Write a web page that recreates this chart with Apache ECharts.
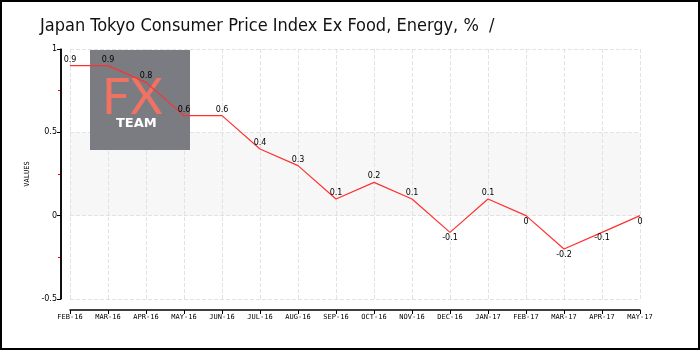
<!DOCTYPE html>
<html><head><meta charset="utf-8">
<script src="https://cdn.jsdelivr.net/npm/echarts@6/dist/echarts.min.js"></script>
<style>html,body{margin:0;padding:0;background:#fff}#c{width:700px;height:350px;box-sizing:border-box;border:2px solid #000}</style>
</head><body><div id="c"></div>
<script>
var titleText = 'Japan Tokyo Consumer Price Index Ex Food, Energy, %  /';
var categories = ['FEB-16','MAR-16','APR-16','MAY-16','JUN-16','JUL-16','AUG-16','SEP-16','OCT-16','NOV-16','DEC-16','JAN-17','FEB-17','MAR-17','APR-17','MAY-17'];
var values = [0.9,0.9,0.8,0.6,0.6,0.4,0.3,0.1,0.2,0.1,-0.1,0.1,0,-0.2,-0.1,0];
var yTicks = {min:-0.5, max:1, interval:0.5};

var chart = echarts.init(document.getElementById('c'));
var seriesData = values.map(function(v){
  return {value:v, label:{position: v <= 0 ? 'bottom' : 'top'}};
});
var Y_OFFSET = 9;
var graphics = [
  {type:'rect', left:88, top:48, shape:{width:100,height:100}, style:{fill:'#7b7b82'}, z:1},
  {type:'text', left:100, top:71, style:{text:'FX', fill:'#f07262', font:'50px "Lato", sans-serif'}, z:1},
  {type:'text', left:114, top:115, style:{text:'TEAM', fill:'#fff', font:'bold 13px "DejaVu Sans", sans-serif'}, z:1}
];
chart.setOption({
  animation:false,
  backgroundColor:'#fff',
  title:{text:titleText, left:33, top:10, textStyle:{fontFamily:'"DejaVu Sans Condensed", "Liberation Sans Narrow", sans-serif', fontSize:18, fontWeight:'normal', color:'#111'}},
  grid:{left:68, right:58, top:47, bottom:49},
  graphic:graphics,
  xAxis:{type:'category', data:categories, boundaryGap:false, offset:11,
    axisLine:{show:true, onZero:false, lineStyle:{color:'#000', width:1.5}}, axisTick:{alignWithLabel:true, length:4, lineStyle:{color:'#000'}},
    axisLabel:{color:'#000', fontSize:7, fontFamily:'DejaVu Sans Mono, monospace', margin:4, interval:0},
    splitLine:{show:true, lineStyle:{color:'#e2e2e2', type:'dashed'}}},
  yAxis:{type:'value', min:yTicks.min, max:yTicks.max, interval:yTicks.interval, offset:Y_OFFSET,
    name:'VALUES', nameLocation:'middle', nameGap:24, nameRotate:90, nameTextStyle:{fontSize:7, color:'#000', fontFamily:'DejaVu Sans Mono, monospace'},
    axisLine:{show:true, onZero:false, lineStyle:{color:'#000', width:1.5}}, axisTick:{show:true, length:4, lineStyle:{color:'#000'}},
    minorTick:{show:true, splitNumber:2, length:3, lineStyle:{color:'#ff0000'}},
    axisLabel:{color:'#000', fontSize:8, fontFamily:'DejaVu Sans, sans-serif', margin:4},
    splitLine:{show:true, lineStyle:{color:'#e2e2e2', type:'dashed'}},
    splitArea:{show:true, areaStyle:{color:['#ffffff','#f7f7f7']}}},
  series:[{type:'line', data:seriesData, symbol:'circle', symbolSize:0, z:3,
    lineStyle:{color:'#ff3030', width:1.2}, itemStyle:{color:'#ff3030'},
    label:{show:true, color:'#000', fontSize:8, fontFamily:'DejaVu Sans, sans-serif', distance:2}}]
});
// y axis line, positioned from the library's own scales
var yTop = chart.convertToPixel({yAxisIndex:0}, yTicks.max);
var yBot = chart.convertToPixel({yAxisIndex:0}, yTicks.min);
var xLeft = chart.convertToPixel({xAxisIndex:0}, categories[0]) - Y_OFFSET;
graphics.push({type:'line', shape:{x1:xLeft, y1:yTop, x2:xLeft, y2:yBot}, style:{stroke:'#000', lineWidth:1.5}, z:5});
chart.setOption({graphic:graphics});
</script></body></html>
